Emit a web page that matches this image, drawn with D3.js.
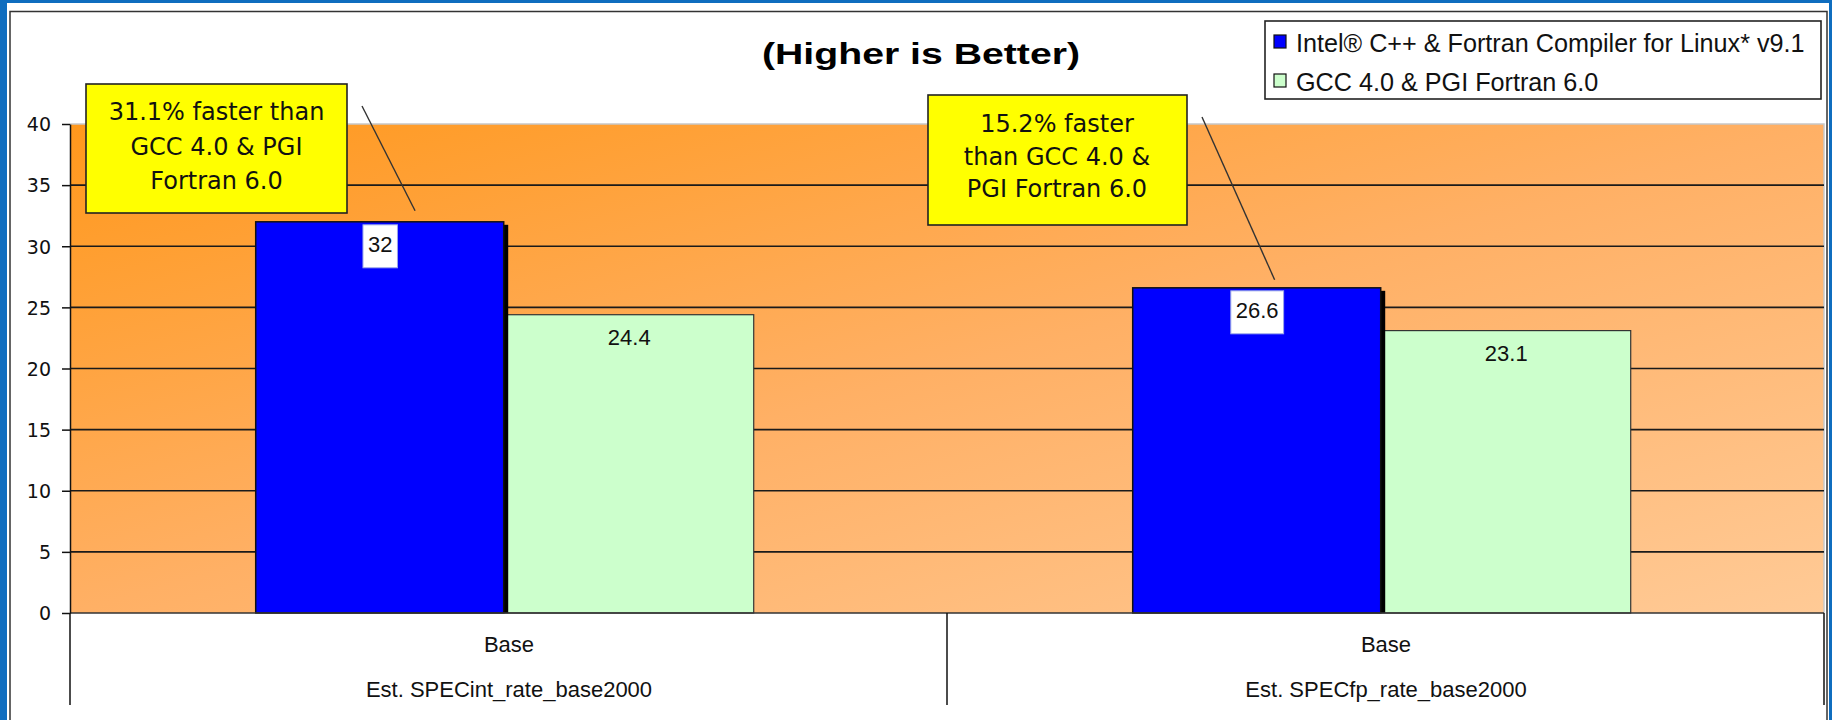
<!DOCTYPE html>
<html>
<head>
<meta charset="utf-8">
<script src="https://cdn.jsdelivr.net/npm/d3@7"></script>
<style>
  html, body { margin: 0; padding: 0; background: #0F6DBF; }
  svg { display: block; }
</style>
</head>
<body>
<svg id="chart" width="1832" height="720"></svg>
<script>
// ---------- data ----------
const categories = ["Est. SPECint_rate_base2000", "Est. SPECfp_rate_base2000"];
const subCategories = ["Base", "Base"];
const seriesNames = ["Intel\u00AE C++ & Fortran Compiler for Linux* v9.1", "GCC 4.0 & PGI Fortran 6.0"];
const intelValues = [32, 26.6];
const gccValues = [24.4, 23.1];
const yTicks = [0, 5, 10, 15, 20, 25, 30, 35, 40];
const calloutTexts = [
  ["31.1% faster than", "GCC 4.0 & PGI", "Fortran 6.0"],
  ["15.2% faster", "than GCC 4.0 &", "PGI Fortran 6.0"]
];
const titleText = "(Higher is Better)";

// ---------- layout ----------
const W = 1832, H = 720;
const plot = { left: 70, right: 1824, top: 124, bottom: 613 };
const seriesColors = ["#0000FF", "#CCFFCC"];
const seriesValues = [intelValues, gccValues];

const svg = d3.select("#chart");

const defs = svg.append("defs");
const grad = defs.append("linearGradient").attr("id", "bg")
  .attr("x1", 0).attr("y1", 0).attr("x2", 1).attr("y2", 1);
grad.append("stop").attr("offset", "0%").attr("stop-color", "#FF981C");
grad.append("stop").attr("offset", "50%").attr("stop-color", "#FFB065");
grad.append("stop").attr("offset", "100%").attr("stop-color", "#FFCA96");

// page
svg.append("rect").attr("x", 0).attr("y", 0).attr("width", W).attr("height", H).attr("fill", "#0F6DBF");
svg.append("rect").attr("x", 7).attr("y", 3).attr("width", 1822).attr("height", H).attr("fill", "#ffffff");
svg.append("rect").attr("x", 10).attr("y", 11.5).attr("width", 1817).attr("height", H + 20)
  .attr("fill", "#ffffff").attr("stroke", "#333").attr("stroke-width", 1.5);

// scales
const y = d3.scaleLinear().domain([0, 40]).range([plot.bottom, plot.top]);
const x0 = d3.scaleBand().domain(categories).range([plot.left, plot.right]).paddingInner(0).paddingOuter(0);
const x1 = d3.scaleBand().domain(seriesNames).range([0, x0.bandwidth()])
  .paddingInner(0).paddingOuter(0.761).align(0.49);

// plot background
svg.append("rect").attr("x", plot.left).attr("y", plot.top)
  .attr("width", plot.right - plot.left).attr("height", plot.bottom - plot.top)
  .attr("fill", "url(#bg)");
// light border top / right
svg.append("path")
  .attr("d", `M${plot.left},${plot.top}H${plot.right}V${plot.bottom}`)
  .attr("fill", "none").attr("stroke", "#c8c8c8").attr("stroke-width", 1.5);

// gridlines
svg.append("g").selectAll("line").data(yTicks.filter(t => t > 0 && t < 40)).join("line")
  .attr("x1", plot.left).attr("x2", plot.right)
  .attr("y1", d => y(d)).attr("y2", d => y(d))
  .attr("stroke", "#1a1a1a").attr("stroke-width", 1.6);

// bars
const rows = [];
categories.forEach((c, i) => {
  seriesNames.forEach((s, j) => rows.push({ cat: c, series: s, j, value: seriesValues[j][i] }));
});
const barX = d => x0(d.cat) + x1(d.series);
const bw = x1.bandwidth();

const gBars = svg.append("g");
// green first
gBars.selectAll("rect.gcc").data(rows.filter(d => d.j === 1)).join("rect")
  .attr("x", barX).attr("y", d => y(d.value))
  .attr("width", bw).attr("height", d => y(0) - y(d.value))
  .attr("fill", seriesColors[1]).attr("stroke", "#333").attr("stroke-width", 1.2);
// blue shadows
gBars.selectAll("rect.shadow").data(rows.filter(d => d.j === 0)).join("rect")
  .attr("x", d => barX(d) + bw - 1).attr("y", d => y(d.value) + 3)
  .attr("width", 4.5).attr("height", d => y(0) - y(d.value) - 3)
  .attr("fill", "#000");
gBars.selectAll("rect.intel").data(rows.filter(d => d.j === 0)).join("rect")
  .attr("x", barX).attr("y", d => y(d.value))
  .attr("width", bw - 1).attr("height", d => y(0) - y(d.value))
  .attr("fill", seriesColors[0]).attr("stroke", "#111").attr("stroke-width", 1.5);

// baseline
svg.append("line").attr("x1", plot.left).attr("x2", plot.right)
  .attr("y1", y(0)).attr("y2", y(0)).attr("stroke", "#333").attr("stroke-width", 1.6);

// y axis
const yAxis = d3.axisLeft(y).tickValues(yTicks).tickSize(8).tickSizeOuter(0).tickPadding(11);
const gy = svg.append("g").attr("transform", `translate(${plot.left},0)`).call(yAxis);
gy.select(".domain").attr("stroke", "#111").attr("stroke-width", 1.5);
gy.selectAll(".tick line").attr("stroke", "#111").attr("stroke-width", 1.5);
gy.selectAll(".tick text").attr("font-family", "DejaVu Sans").attr("font-size", 19)
  .attr("fill", "#111").attr("dy", "0.36em");
// axis line continues through the category area
svg.append("line").attr("x1", plot.left).attr("x2", plot.left)
  .attr("y1", y(0)).attr("y2", 705).attr("stroke", "#111").attr("stroke-width", 1.5);
// category separators
svg.append("g").selectAll("line").data(categories).join("line")
  .attr("x1", d => x0(d) + x0.bandwidth()).attr("x2", d => x0(d) + x0.bandwidth())
  .attr("y1", y(0)).attr("y2", 705).attr("stroke", "#111").attr("stroke-width", 1.5);

// category labels
const catCenter = c => x0(c) + x0.bandwidth() / 2 + 0.5;
svg.append("g").selectAll("text").data(categories).join("text")
  .attr("x", catCenter).attr("y", 651.5).attr("text-anchor", "middle")
  .attr("font-family", "Liberation Sans, Arial").attr("font-size", 22).attr("fill", "#111")
  .text((d, i) => subCategories[i]);
svg.append("g").selectAll("text").data(categories).join("text")
  .attr("x", catCenter).attr("y", 697).attr("text-anchor", "middle")
  .attr("font-family", "Liberation Sans, Arial").attr("font-size", 22).attr("fill", "#111")
  .text(d => d);

// data labels
const gLab = svg.append("g");
rows.forEach(d => {
  const cx = barX(d) + bw / 2;
  const g = gLab.append("g");
  let bg = null;
  if (d.j === 0) bg = g.append("rect");
  const t = g.append("text").attr("x", cx).attr("y", y(d.value) + 30.5)
    .attr("text-anchor", "middle").attr("font-family", "Liberation Sans, Arial")
    .attr("font-size", 22).attr("fill", "#111").text(d.value);
  if (bg) {
    const tw = t.node().getComputedTextLength();
    bg.attr("x", cx - tw / 2 - 5).attr("y", y(d.value) + 3)
      .attr("width", tw + 10).attr("height", 43)
      .attr("fill", "#fff").attr("stroke", "#9aa6e8").attr("stroke-width", 1);
  }
});

// callouts
const callouts = [
  { box: [86, 84, 261, 129], cx: 216.5, base: 120, lh: 34.5, from: [362, 106], endFrac: 0.64, endDy: -11 },
  { box: [928, 95, 259, 130], cx: 1057, base: 132, lh: 32.6, from: [1202, 117], endFrac: 0.57, endDy: -8 }
];
callouts.forEach((c, i) => {
  const d = rows.find(r => r.j === 0 && r.cat === categories[i]);
  svg.append("line").attr("x1", c.from[0]).attr("y1", c.from[1])
    .attr("x2", barX(d) + bw * c.endFrac).attr("y2", y(d.value) + c.endDy)
    .attr("stroke", "#333").attr("stroke-width", 1.4);
  svg.append("rect").attr("x", c.box[0]).attr("y", c.box[1]).attr("width", c.box[2]).attr("height", c.box[3])
    .attr("fill", "#FFFF00").attr("stroke", "#222").attr("stroke-width", 1.6);
  svg.append("g").selectAll("text").data(calloutTexts[i]).join("text")
    .attr("x", c.cx).attr("y", (t, k) => c.base + k * c.lh).attr("text-anchor", "middle")
    .attr("font-family", "DejaVu Sans").attr("font-size", 24).attr("fill", "#111")
    .text(t => t);
});

// legend
const lg = svg.append("g");
lg.append("rect").attr("x", 1265).attr("y", 21).attr("width", 556).attr("height", 78)
  .attr("fill", "#fff").attr("stroke", "#222").attr("stroke-width", 1.6);
seriesNames.forEach((s, i) => {
  const rowY = 35 + i * 39;
  lg.append("rect").attr("x", 1274).attr("y", rowY).attr("width", 12).attr("height", 13)
    .attr("fill", seriesColors[i]).attr("stroke", "#111").attr("stroke-width", 1.2);
  lg.append("text").attr("x", 1296).attr("y", rowY + 16.5)
    .attr("font-family", "Liberation Sans, Arial").attr("font-size", 25.2).attr("fill", "#111")
    .text(s);
});

// title
svg.append("text").attr("x", 921).attr("y", 64).attr("text-anchor", "middle")
  .attr("font-family", "Liberation Sans, Arial").attr("font-weight", "bold")
  .attr("font-size", 30).attr("textLength", 318).attr("lengthAdjust", "spacingAndGlyphs")
  .attr("fill", "#000").text(titleText);
</script>
</body>
</html>
